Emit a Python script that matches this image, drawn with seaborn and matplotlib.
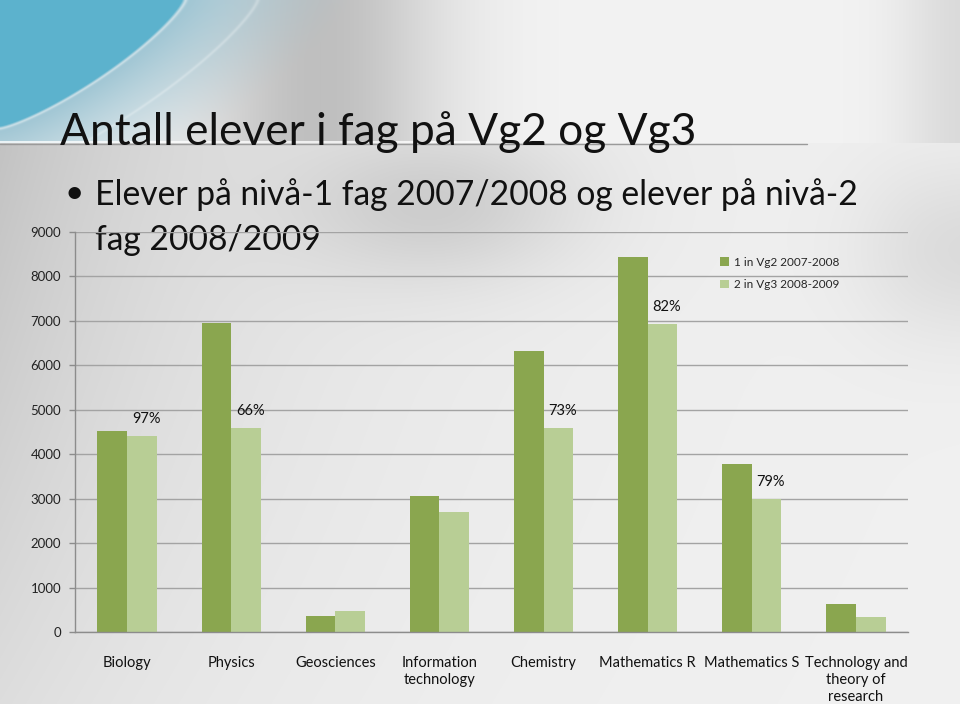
import numpy as np
import pandas as pd
import matplotlib
matplotlib.use("Agg")
import matplotlib.pyplot as plt
import matplotlib.font_manager as fm
import seaborn as sns

# ---------------- data ----------------
categories = ["Biology", "Physics", "Geosciences", "Information\ntechnology",
              "Chemistry", "Mathematics R", "Mathematics S",
              "Technology and\ntheory of\nresearch"]
vg2_2007_2008 = [4520, 6950, 360, 3060, 6320, 8440, 3780, 630]
vg3_2008_2009 = [4410, 4590, 470, 2700, 4590, 6930, 3000, 340]
series_names = ["1 in Vg2 2007-2008", "2 in Vg3 2008-2009"]
pct_labels = ["97%", "66%", "", "", "73%", "82%", "79%", ""]
y_ticks = [0, 1000, 2000, 3000, 4000, 5000, 6000, 7000, 8000, 9000]

title = "Antall elever i fag på Vg2 og Vg3"
bullet_lines = ["Elever på nivå-1 fag 2007/2008 og elever på nivå-2", "fag 2008/2009"]

dark_green = "#8AA64F"
light_green = "#B8CE95"

sns.set_theme(style="white")
plt.rcParams["font.family"] = ["Lato", "DejaVu Sans"]

installed = {f.name for f in fm.fontManager.ttflist}
head_font = "Liberation Sans Narrow" if "Liberation Sans Narrow" in installed else "Lato"

# ---------------- background (slide) ----------------
W, H = 960, 704
yy, xx = np.mgrid[0:H, 0:W].astype(float)
D = np.zeros((H, W))
amp = np.clip(46 - 26 * (yy - 150) / 550, 16, 46)
D += amp * np.exp(-xx / 260)
D += 28 * np.exp(-((xx - 440) / 140) ** 2 - ((yy - 205) / 75) ** 2)
D += 22 / (1 + np.exp(-(xx - 880) / 30)) * np.exp(-((yy - 250) / 90) ** 2)
gray = 241 - D
top = yy < 143
gtop = 243 - 52 * np.exp(-((xx - 320) / 120) ** 2) - 28 / (1 + np.exp(-(xx - 915) / 22))
gray = np.where(top, gtop, gray)
img = np.stack([gray] * 3, -1)

r = ((xx / 185) ** 1.25 + (yy / 128) ** 1.25) ** (1 / 1.25)
w = (np.clip((1.9 - r) / 0.9, 0, 1) ** 1.2) * top
blue_out = np.array([160, 198, 212])
blue_in = np.array([92, 178, 205])
img = img * (1 - w[..., None]) + blue_out * w[..., None]
wi = np.clip((1.0 - r) / 0.02, 0, 1)
img = img * (1 - wi[..., None]) + blue_in * wi[..., None]
for rr, a in [(1.0, 0.4), (1.39, 0.25)]:
    hl = a * np.exp(-((r - rr) / 0.012) ** 2) * top
    img = img * (1 - hl[..., None]) + 255 * hl[..., None]
img = np.clip(img, 0, 255).astype(np.uint8)

fig = plt.figure(figsize=(9.6, 7.04), dpi=100)
bg = fig.add_axes([0, 0, 1, 1], zorder=0)
bg.imshow(img, extent=[0, W, H, 0], aspect="auto", interpolation="bilinear")
bg.set_xlim(0, W)
bg.set_ylim(H, 0)
bg.axis("off")

# title line
bg.plot([0, 480], [142.2, 142.2], color="white", lw=1.2, alpha=0.9)
bg.plot([0, 807], [143.6, 143.6], color="#9a9a9a", lw=1.0)

renderer = fig.canvas.get_renderer()


def fit_text(x, y, s, size, target_w, **kw):
    t = bg.text(x, y, s, fontsize=size, family=[head_font, "DejaVu Sans"],
                color="#111111", va="baseline", ha="left", **kw)
    wpx = t.get_window_extent(renderer=renderer).width
    t.set_fontsize(size * target_w / wpx)
    return t


fit_text(60, 145, title, 40, 635)
bg.text(64, 203, "•", fontsize=24, color="#111111", va="baseline", ha="left")
b1 = fit_text(95, 205, bullet_lines[0], 26, 762)
bg.text(95, 250, bullet_lines[1], fontsize=b1.get_fontsize(),
        family=[head_font, "DejaVu Sans"], color="#111111", va="baseline", ha="left")

# ---------------- chart ----------------
df = pd.DataFrame({
    "subject": categories * 2,
    "count": vg2_2007_2008 + vg3_2008_2009,
    "series": [series_names[0]] * len(categories) + [series_names[1]] * len(categories),
})

ax = fig.add_axes([75 / W, 1 - 632 / H, (908 - 75) / W, 400 / H], zorder=2)
ax.patch.set_alpha(0)
sns.barplot(data=df, x="subject", y="count", hue="series",
            palette=[dark_green, light_green], width=0.57, saturation=1,
            ax=ax, errorbar=None, linewidth=0, edgecolor="none")

ax.set_xlim(-0.5, len(categories) - 0.5)
ax.set_ylim(0, 9000)
ax.set_yticks(y_ticks)
ax.set_yticklabels([str(t) for t in y_ticks], fontsize=9.5, color="#222222")
ax.set_xlabel("")
ax.set_ylabel("")
ax.yaxis.grid(True, color="#a3a3a3", lw=1.0)
ax.set_axisbelow(True)
for s in ["top", "right"]:
    ax.spines[s].set_visible(False)
for s in ["left", "bottom"]:
    ax.spines[s].set_color("#8c8c8c")
    ax.spines[s].set_linewidth(1.0)

ax.set_xticks(range(len(categories)))
ax.set_xticklabels(categories, fontsize=10.5, linespacing=1.3, color="#111111", va="top")
ax.tick_params(axis="x", which="major", length=0, pad=17)
ax.set_xticks(np.arange(-0.5, len(categories), 1.0), minor=True)
ax.tick_params(axis="x", which="minor", length=5, color="#8c8c8c", width=1)
ax.tick_params(axis="y", length=4, color="#8c8c8c", width=1, pad=6, left=True)

bar_half = 0.57 / 4
for i, lab in enumerate(pct_labels):
    if lab:
        ax.annotate(lab, (i + bar_half, vg3_2008_2009[i]), xytext=(3, 7),
                    textcoords="offset points", ha="center", va="bottom",
                    fontsize=10.5, color="#111111")

handles, labels = ax.get_legend_handles_labels()
ax.get_legend().remove()
fig.legend(handles, labels, loc="upper left",
           bbox_to_anchor=(714 / W, 1 - 251 / H), frameon=False,
           fontsize=8.5, handlelength=0.75, handleheight=0.75,
           handletextpad=0.45, labelspacing=0.95, borderpad=0)

fig.savefig("out.png", dpi=100)
